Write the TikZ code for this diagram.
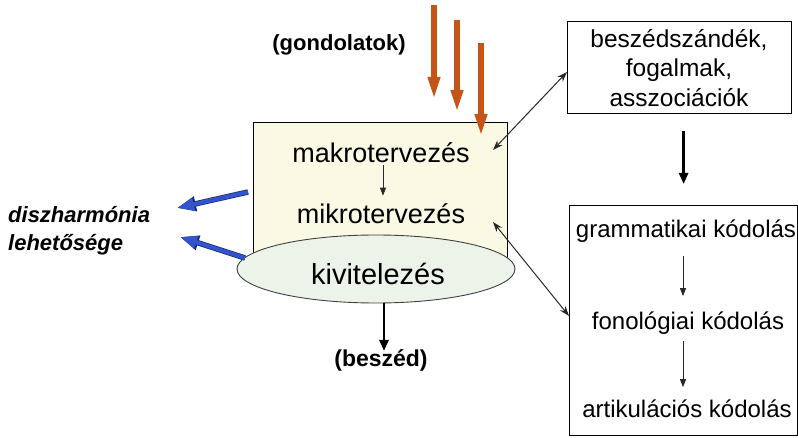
\documentclass[tikz,border=0pt]{standalone}
\usepackage{fontspec}
\setmainfont{Liberation Sans}
\usetikzlibrary{arrows.meta,shapes.geometric}
\definecolor{cream}{RGB}{250,250,228}
\definecolor{mint}{RGB}{236,244,234}
\definecolor{rust}{RGB}{196,85,22}
\definecolor{bluearr}{RGB}{50,85,205}
\definecolor{bluedark}{RGB}{30,45,115}
\definecolor{linkgray}{RGB}{40,40,40}
\begin{document}
\begin{tikzpicture}[x=1pt,y=-1pt,
  lbl/.style={inner sep=0pt, text=black},
  plainbox/.style={draw=black, line width=1.2pt, fill=white, inner sep=0pt},
  thinarrow/.style={draw=linkgray, line width=0.8pt, -{Triangle[length=8pt,width=6pt]}},
  thickarrow/.style={draw=black, line width=2.6pt, -{Triangle[length=11pt,width=9pt]}},
  rustarrow/.style={draw=rust, line width=6pt, -{Triangle[length=24pt,width=11pt]}},
  bluearrow/.style={draw=bluearr, line width=4pt, preaction={draw=bluedark, line width=5.5pt, -{Triangle[length=19pt,width=14pt]}}, -{Triangle[length=17pt,width=12pt]}},
  linkarrow/.style={draw=linkgray, line width=1pt, {Stealth[length=10pt,width=7pt]}-{Stealth[length=10pt,width=7pt]}}
]
\useasboundingbox (0,0) rectangle (798,438);

% left planning block
\node[draw=black, line width=0.8pt, fill=cream, minimum width=254, minimum height=142, anchor=north west, inner sep=0pt] (plan) at (253,122) {};
\node[ellipse, draw=black!75, line width=0.9pt, fill=mint, minimum width=278, minimum height=68, inner sep=0pt] (exec) at (376,269) {};

\node[lbl, font=\fontsize{27}{32}\selectfont] (makro) at (381,153) {makrotervezés};
\node[lbl, font=\fontsize{27}{32}\selectfont] (mikro) at (381,214) {mikrotervezés};
\node[lbl, font=\fontsize{29}{34}\selectfont] (kivit) at (378,274) {kivitelezés};

\node[lbl, font=\bfseries\fontsize{22}{26}\selectfont] (gond) at (339,45) {(gondolatok)};
\node[lbl, font=\bfseries\fontsize{23}{27}\selectfont] (besz) at (381,360) {(beszéd)};

\node[lbl, font=\bfseries\itshape\fontsize{22}{26}\selectfont, anchor=base west] (disz) at (8,223) {diszharmónia};
\node[lbl, font=\bfseries\itshape\fontsize{22}{26}\selectfont, anchor=base west] (lehet) at (8,251) {lehetősége};

% right boxes
\node[plainbox, minimum width=224, minimum height=92, anchor=north west] (intent) at (567,21) {};
\node[lbl, font=\fontsize{24.5}{29.5}\selectfont, align=center] (intenttxt) at (679,68) {beszédszándék,\\fogalmak,\\asszociációk};

\node[plainbox, minimum width=228, minimum height=230, anchor=north west] (code) at (569,205) {};
\node[lbl, font=\fontsize{24}{28}\selectfont, anchor=base] (gram) at (686,238) {grammatikai kódolás};
\node[lbl, font=\fontsize{24}{28}\selectfont, anchor=base] (fono) at (688,330) {fonológiai kódolás};
\node[lbl, font=\fontsize{24}{28}\selectfont, anchor=base] (artik) at (687,417) {artikulációs kódolás};

% coordinates for free connector ends
\coordinate (r1a) at (434,5);   \coordinate (r1b) at (434,101);
\coordinate (r2a) at (457,20);  \coordinate (r2b) at (457,114);
\coordinate (r3a) at (481,43);  \coordinate (r3b) at (481,138);
\coordinate (b1a) at (248,192); \coordinate (b1b) at (177,208);
\coordinate (b2a) at (245,258); \coordinate (b2b) at (180,237);
\coordinate (m1) at (493,150);  \coordinate (i1) at (567,72);
\coordinate (m2) at (493,222);  \coordinate (c1) at (569,316);

% orange input arrows
\draw[rustarrow] (r1a) -- (r1b);
\draw[rustarrow] (r2a) -- (r2b);
\draw[rustarrow] (r3a) -- (r3b);

% inner arrows
\draw[thinarrow, shorten <=2pt, shorten >=8pt] ([xshift=2pt]makro.south) -- ([xshift=2pt]mikro.north);
\draw[thickarrow] ([xshift=8pt]exec.south) -- ([xshift=3pt,yshift=-2pt]besz.north);

% blue arrows
\draw[bluearrow] (b1a) -- (b1b);
\draw[bluearrow] (b2a) -- (b2b);

% links to right boxes
\draw[linkarrow] (m1) -- (i1);
\draw[linkarrow] (m2) -- (c1);

\draw[thickarrow, shorten <=17pt, shorten >=21pt] ([xshift=4pt]intent.south) -- (code.north);
\draw[thinarrow, shorten <=13pt, shorten >=16pt] ([xshift=-3pt]gram.south) -- ([xshift=-5pt]fono.north);
\draw[thinarrow, shorten <=6pt, shorten >=12pt] ([xshift=-5pt]fono.south) -- ([xshift=-4pt]artik.north);
\end{tikzpicture}
\end{document}
